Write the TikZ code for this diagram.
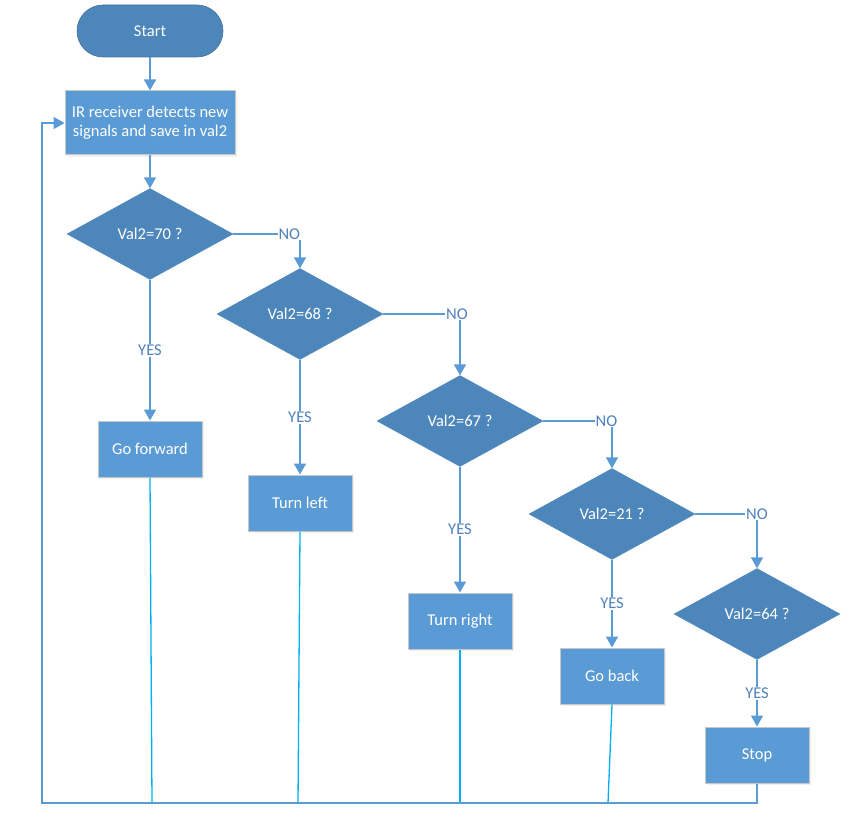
\documentclass[tikz,border=0pt]{standalone}
\usepackage{fontspec}
\setmainfont{Carlito}
\usetikzlibrary{shapes.geometric,arrows.meta,shadows}
\definecolor{dblue}{RGB}{77,134,187}
\definecolor{dborder}{RGB}{65,113,156}
\definecolor{lblue}{RGB}{91,155,213}
\definecolor{lineblue}{RGB}{91,155,213}
\definecolor{lbltxt}{RGB}{79,129,189}
\definecolor{cyanl}{RGB}{0,176,240}
\tikzset{
  txt/.style={font=\fontsize{16.5}{19}\selectfont, text=white},
  startbox/.style={txt, rectangle, rounded corners=26pt, fill=dblue, draw=dborder, line width=0.6pt,
    minimum width=146pt, minimum height=52pt},
  procbox/.style={txt, rectangle, fill=lblue, draw=black!22, line width=1pt,
    minimum width=104pt, minimum height=56pt, align=center,
    drop shadow={opacity=0.12, shadow xshift=2pt, shadow yshift=-2pt}},
  decbox/.style={txt, diamond, fill=dblue, draw=dblue, inner sep=0pt,
    minimum width=166pt, minimum height=91pt},
  arr/.style={draw=lineblue, line width=1.6pt, -{Triangle[width=12pt,length=11pt]}},
  thinln/.style={draw=cyanl, line width=1.3pt},
  lbl/.style={font=\fontsize{16.5}{19}\selectfont, text=lbltxt, fill=white, inner sep=1pt}
}
\begin{document}
\begin{tikzpicture}[x=1pt,y=-1pt]
\useasboundingbox (0,0) rectangle (850,821);
% nodes
\node[startbox] (start) at (150,31) {Start};
\node[procbox, minimum width=170pt, minimum height=64pt] (ir) at (150,123)
  {IR receiver detects new\\signals and save in val2};
\node[decbox] (d1) at (150,234) {Val2=70 ?};
\node[procbox] (fwd) at (150,449) {Go forward};
\node[decbox] (d2) at (300,314) {Val2=68 ?};
\node[procbox] (left) at (300,503) {Turn left};
\node[decbox] (d3) at (460,421) {Val2=67 ?};
\node[procbox] (right) at (460,621) {Turn right};
\node[decbox] (d4) at (612,514) {Val2=21 ?};
\node[procbox] (back) at (612,676) {Go back};
\node[decbox] (d5) at (757,614) {Val2=64 ?};
\node[procbox] (stop) at (757,755) {Stop};
% loop coordinates
\coordinate (bl) at (42,803);
\coordinate (f1) at (152,803);
\coordinate (f2) at (298,803);
\coordinate (f3) at (460,803);
\coordinate (f4) at (608,803);
% connectors
\draw[arr] (start) -- (ir);
\draw[arr] (ir) -- (d1);
\draw[arr] (d1.east) -| node[lbl,pos=0.42]{NO} (d2.north);
\draw[arr] (d2.east) -| node[lbl,pos=0.48]{NO} (d3.north);
\draw[arr] (d3.east) -| node[lbl,pos=0.46]{NO} (d4.north);
\draw[arr] (d4.east) -| node[lbl,pos=0.5]{NO} (d5.north);
\draw[arr] (d1.south) -- node[lbl]{YES} (fwd.north);
\draw[arr] (d2.south) -- node[lbl]{YES} (left.north);
\draw[arr] (d3.south) -- node[lbl]{YES} (right.north);
\draw[arr] (d4.south) -- node[lbl]{YES} (back.north);
\draw[arr] (d5.south) -- node[lbl]{YES} (stop.north);
\draw[thinln] (fwd.south) -- (f1);
\draw[thinln] (left.south) -- (f2);
\draw[thinln] (right.south) -- (f3);
\draw[thinln] (back.south) -- (f4);
\draw[arr] (stop.south) |- (bl) |- (ir.west);
\end{tikzpicture}
\end{document}
